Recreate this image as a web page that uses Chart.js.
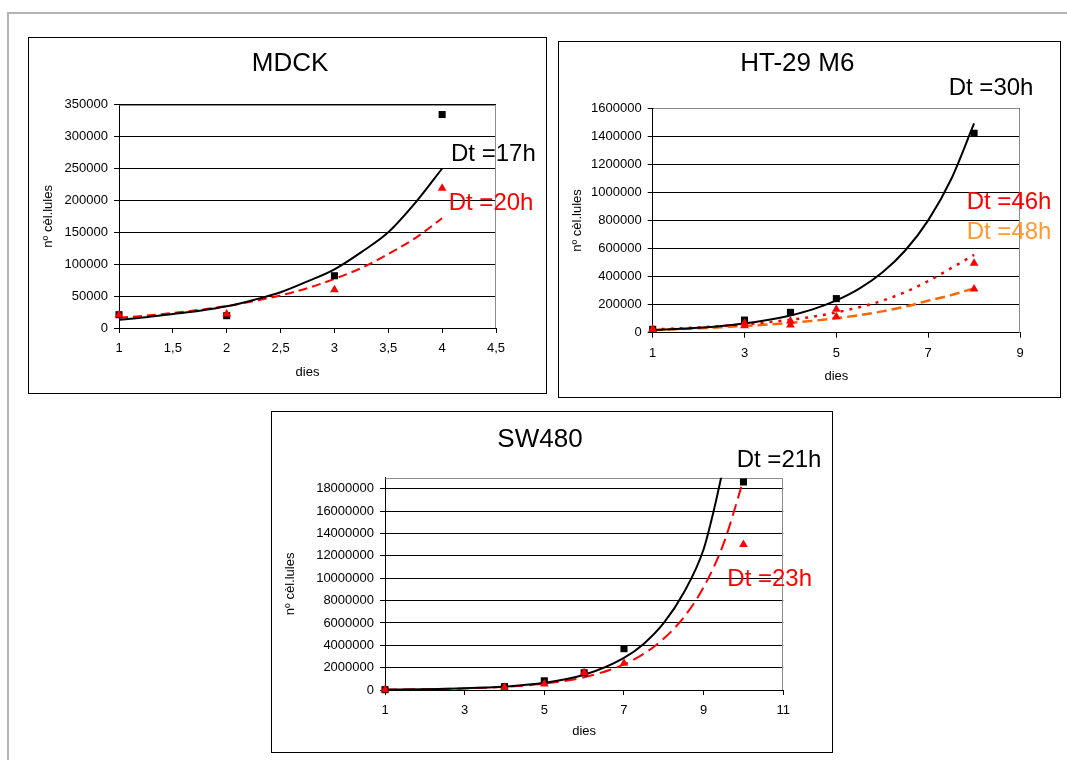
<!DOCTYPE html>
<html>
<head>
<meta charset="utf-8">
<script src="https://cdn.jsdelivr.net/npm/chart.js@4.4.1/dist/chart.umd.min.js"></script>
<style>
  body { margin: 0; background: #fff; width: 1067px; height: 760px; overflow: hidden; position: relative; }
  #frame { position: absolute; left: 7px; top: 12px; width: 1100px; height: 800px;
           border-left: 2px solid #b4b4b4; border-top: 2px solid #b4b4b4; }
  .box { position: absolute; border: 1px solid #000; background: #fff; }
  .box canvas { display: block; }
</style>
</head>
<body>
<div id="frame"></div>
<div class="box" style="left:28px;top:37px;"><canvas id="c1" width="517" height="355"></canvas></div>
<div class="box" style="left:558px;top:41px;"><canvas id="c2" width="501" height="355"></canvas></div>
<div class="box" style="left:271px;top:411px;"><canvas id="c3" width="560" height="340"></canvas></div>
<script>
const FONT = "'Liberation Sans', Arial, Helvetica, sans-serif";

// MDCK
const mdckDays = [1, 2, 3, 4];
const mdckCellsA = [20800, 19300, 81900, 334600];
const mdckCellsB = [20800, 21900, 60000, 219000];
const mdckFitDays = [1, 1.25, 1.5, 1.75, 2, 2.25, 2.5, 2.75, 3, 3.25, 3.5, 3.75, 4];
const mdckFitA = [13000, 17000, 22000, 27000, 34000, 44000, 56000, 73000, 92000, 119000, 150000, 196000, 250000];
const mdckFitB = [16000, 19500, 23500, 28500, 34500, 42000, 51000, 62500, 77000, 94000, 116000, 141000, 172000];
const mdckXTicks = ["1", "1,5", "2", "2,5", "3", "3,5", "4", "4,5"];
const mdckYTicks = [0, 50000, 100000, 150000, 200000, 250000, 300000, 350000];

// HT-29 M6
const htDays = [1, 3, 4, 5, 8];
const htCellsA = [24000, 90000, 145000, 243000, 1422000];
const htCellsB = [24000, 67000, 83000, 167000, 495000];
const htCellsC = [22000, 50000, 55000, 114000, 311000];
const htFitDays = [1, 1.5, 2, 2.5, 3, 3.5, 4, 4.5, 5, 5.5, 6, 6.5, 7, 7.5, 8];
const htFitA = [19000, 26000, 35500, 48500, 66000, 90000, 123000, 168000, 230000, 314000, 429000, 586000, 801000, 1094000, 1493000];
const htFitB = [24000, 30000, 37600, 47000, 59000, 74000, 92000, 115000, 145000, 182000, 228000, 290000, 368000, 460000, 555000];
const htFitC = [20000, 25000, 31000, 39000, 48000, 58000, 70000, 85000, 103000, 125000, 152000, 186000, 228000, 268000, 316000];
const htXTicks = ["1", "3", "5", "7", "9"];
const htYTicks = [0, 200000, 400000, 600000, 800000, 1000000, 1200000, 1400000, 1600000];

// SW480
const swDays = [1, 4, 5, 6, 7, 10];
const swCellsA = [30000, 300000, 820000, 1540000, 3700000, 18620000];
const swCellsB = [30000, 240000, 530000, 1560000, 2400000, 13030000];
const swFitDaysA = [1, 2, 3, 4, 5, 6, 7, 7.5, 8, 8.5, 9, 9.25, 9.5];
const swFitA = [33000, 69000, 146000, 307000, 640000, 1360000, 2880000, 4150000, 6000000, 8700000, 12600000, 16000000, 20000000];
const swFitDaysB = [1, 2, 3, 4, 5, 6, 7, 7.5, 8, 8.5, 9, 9.5, 10];
const swFitB = [35000, 70000, 141000, 283000, 568000, 1140000, 2290000, 3250000, 4600000, 6500000, 9200000, 13100000, 18800000];
const swXTicks = ["1", "3", "5", "7", "9", "11"];
const swYTicks = [0, 2000000, 4000000, 6000000, 8000000, 10000000, 12000000, 14000000, 16000000, 18000000];

function pts(xs, ys) {
  return xs.map((x, i) => ({ x: x, y: ys[i] }));
}

function markers(xs, ys, color, style) {
  return { data: pts(xs, ys), showLine: false, pointStyle: style, pointRadius: 5, clip: false,
           pointBackgroundColor: color, pointBorderColor: color, pointBorderWidth: 0 };
}

function fit(xs, ys, color, dash, width) {
  return { data: pts(xs, ys), showLine: true, pointRadius: 0, borderColor: color,
           borderWidth: width, borderDash: dash, cubicInterpolationMode: "monotone", fill: false };
}

// marc gris de l'àrea de traçat (dalt i dreta)
const plotFrame = {
  id: "plotFrame",
  beforeDatasetsDraw(chart) {
    const a = chart.chartArea, ctx = chart.ctx;
    ctx.save();
    ctx.strokeStyle = "#8c8c8c";
    ctx.lineWidth = 1;
    ctx.beginPath();
    ctx.moveTo(Math.round(a.left) + 0.5, Math.round(a.top) + 0.5);
    ctx.lineTo(Math.round(a.right) - 0.5, Math.round(a.top) + 0.5);
    ctx.lineTo(Math.round(a.right) - 0.5, Math.round(a.bottom));
    ctx.stroke();
    ctx.restore();
  }
};

function makeChart(id, o) {
  const texts = o.texts;
  new Chart(document.getElementById(id), {
    type: "scatter",
    data: { datasets: o.datasets },
    options: {
      responsive: false,
      animation: false,
      devicePixelRatio: 1,
      layout: { padding: { top: o.padTop, right: o.padRight, left: 0, bottom: 0 } },
      plugins: { legend: { display: false }, tooltip: { enabled: false }, title: { display: false } },
      scales: {
        x: {
          type: "linear", min: o.xMin, max: o.xMax,
          afterFit: s => { s.height = o.xHeight; },
          ticks: { stepSize: o.xStep, autoSkip: false, includeBounds: false, color: "#000", padding: 8,
                   font: { family: FONT, size: 13 }, maxRotation: 0,
                   callback: (v, i) => o.xTicks[i] },
          grid: { drawOnChartArea: false, drawTicks: true, tickLength: 5, color: "#000" },
          border: { color: "#000", width: 1 },
          title: { display: true, text: "dies", color: "#000", font: { family: FONT, size: 13 },
                   padding: { top: 0, bottom: o.xTitlePad } }
        },
        y: {
          type: "linear", min: 0, max: o.yMax,
          afterFit: s => { s.width = o.yWidth; },
          afterBuildTicks: s => { s.ticks = o.yTicks.map(v => ({ value: v })); },
          ticks: { autoSkip: false, color: "#000", padding: 6,
                   font: { family: FONT, size: 13 }, callback: v => String(v) },
          grid: { color: "#000", lineWidth: 1, tickLength: 5 },
          border: { color: "#000", width: 1 },
          title: { display: true, text: "nº cèl.lules", color: "#000", font: { family: FONT, size: 13 },
                   padding: { top: o.yTitlePad, bottom: 0 } }
        }
      }
    },
    plugins: [plotFrame, {
      id: "texts",
      afterDraw(chart) {
        const ctx = chart.ctx;
        ctx.save();
        ctx.textBaseline = "middle";
        texts.forEach(t => {
          ctx.font = t.size + "px " + FONT;
          ctx.fillStyle = t.color;
          ctx.textAlign = t.align;
          ctx.fillText(t.text, t.x, t.y);
        });
        ctx.restore();
      }
    }]
  });
}

// el primer conjunt es dibuixa a sobre
makeChart("c1", {
  datasets: [
    markers(mdckDays, mdckCellsB, "#ff0000", "triangle"),
    markers(mdckDays, mdckCellsA, "#000", "rect"),
    fit(mdckFitDays, mdckFitA, "#000", [], 2),
    fit(mdckFitDays, mdckFitB, "#ff0000", [9, 5], 2)
  ],
  xMin: 1, xMax: 4.5, xStep: 0.5, xTicks: mdckXTicks,
  yMax: 350000, yTicks: mdckYTicks,
  yWidth: 90, xHeight: 65, padTop: 66.7, padRight: 50,
  yTitlePad: 11.2, xTitlePad: 13.2,
  texts: [
    { text: "MDCK", x: 261, y: 26, size: 26, color: "#000", align: "center" },
    { text: "Dt =17h", x: 422, y: 116.7, size: 24, color: "#000", align: "left" },
    { text: "Dt =20h", x: 419.7, y: 165.7, size: 24, color: "#ff0000", align: "left" }
  ]
});

makeChart("c2", {
  datasets: [
    markers(htDays, htCellsB, "#ff0000", "triangle"),
    markers(htDays, htCellsC, "#ff0000", "triangle"),
    markers(htDays, htCellsA, "#000", "rect"),
    fit(htFitDays, htFitA, "#000", [], 2),
    fit(htFitDays, htFitB, "#ff0000", [3, 6], 2.5),
    fit(htFitDays, htFitC, "#ff6600", [10, 5], 2.5)
  ],
  xMin: 1, xMax: 9, xStep: 2, xTicks: htXTicks,
  yMax: 1600000, yTicks: htYTicks,
  yWidth: 93.7, xHeight: 64.3, padTop: 66.3, padRight: 40,
  yTitlePad: 10.2, xTitlePad: 12.5,
  texts: [
    { text: "HT-29 M6", x: 238.3, y: 22, size: 26, color: "#000", align: "center" },
    { text: "Dt =30h", x: 389.7, y: 46.3, size: 24, color: "#000", align: "left" },
    { text: "Dt =46h", x: 407.7, y: 160, size: 24, color: "#ff0000", align: "left" },
    { text: "Dt =48h", x: 407.7, y: 190.7, size: 24, color: "#ff9933", align: "left" }
  ]
});

makeChart("c3", {
  datasets: [
    markers(swDays, swCellsB, "#ff0000", "triangle"),
    markers(swDays, swCellsA, "#000", "rect"),
    fit(swFitDaysA, swFitA, "#000", [], 2),
    fit(swFitDaysB, swFitB, "#ff0000", [12, 6], 2)
  ],
  xMin: 1, xMax: 11, xStep: 2, xTicks: swXTicks,
  yMax: 19000000, yTicks: swYTicks,
  yWidth: 113, xHeight: 62, padTop: 65.7, padRight: 48.7,
  yTitlePad: 10.2, xTitlePad: 13.2,
  texts: [
    { text: "SW480", x: 268, y: 27.7, size: 26, color: "#000", align: "center" },
    { text: "Dt =21h", x: 464.7, y: 48, size: 24, color: "#000", align: "left" },
    { text: "Dt =23h", x: 455.3, y: 167.3, size: 24, color: "#ff0000", align: "left" }
  ]
});
</script>
</body>
</html>
